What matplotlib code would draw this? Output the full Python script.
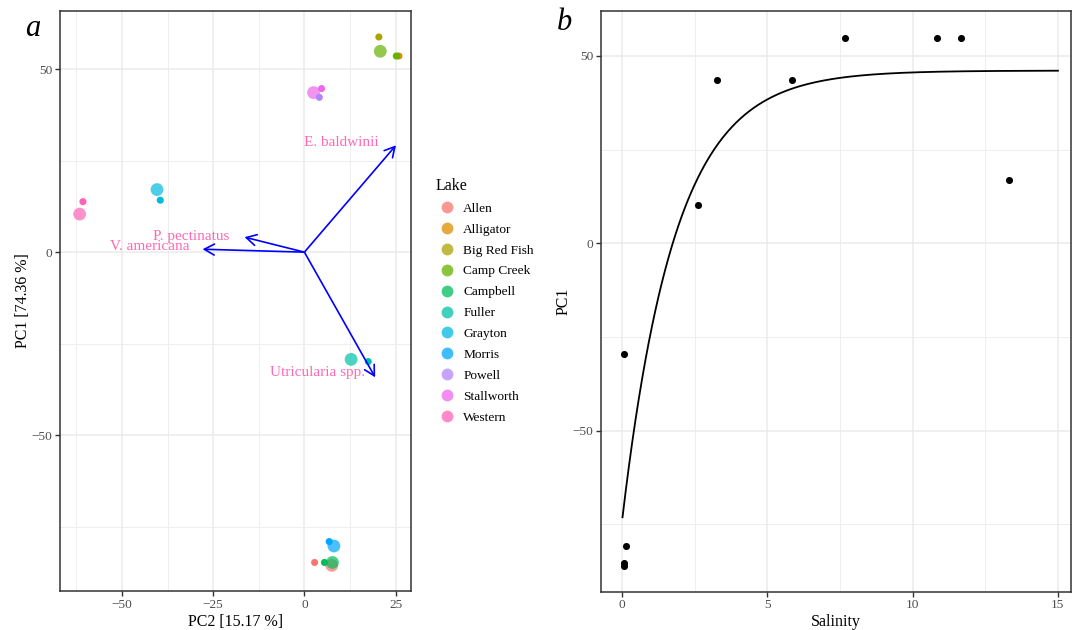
import matplotlib
matplotlib.use("Agg")
import matplotlib.pyplot as plt
import numpy as np
from matplotlib.lines import Line2D
from matplotlib.ticker import MultipleLocator

plt.rcParams['font.family'] = ['Liberation Serif', 'DejaVu Serif']

# ---------------- data ----------------
lakes = ['Allen', 'Alligator', 'Big Red Fish', 'Camp Creek', 'Campbell', 'Fuller',
         'Grayton', 'Morris', 'Powell', 'Stallworth', 'Western']
lake_colors = ['#F8766D', '#DB8E00', '#AEA200', '#64B200', '#00BD5C', '#00C1A7',
               '#00BADE', '#00A6FF', '#B385FF', '#EF67EB', '#FF63B6']

# large points (panel a)
big_lake = ['Allen', 'Camp Creek', 'Campbell', 'Fuller', 'Grayton', 'Morris', 'Stallworth', 'Western']
big_pc2 = [7.5, 20.8, 7.7, 12.8, -40.4, 8.1, 2.5, -61.6]
big_pc1 = [-85.6, 54.9, -84.8, -29.3, 17.1, -80.3, 43.6, 10.4]

# small points (panel a)
small_lake = ['Allen', 'Alligator', 'Big Red Fish', 'Camp Creek', 'Campbell', 'Fuller',
              'Grayton', 'Morris', 'Powell', 'Stallworth', 'Western']
small_pc2 = [2.8, 25.9, 20.4, 25.2, 5.5, 17.5, -39.5, 6.8, 4.1, 4.7, -60.7]
small_pc1 = [-84.8, 53.6, 58.8, 53.6, -84.8, -29.9, 14.2, -79.1, 42.3, 44.7, 13.8]

# loadings arrows
species = ['E. baldwinii', 'P. pectinatus', 'V. americana', 'Utricularia spp.']
load_pc2 = [25.1, -16.4, -27.9, 19.4]
load_pc1 = [29.2, 4.1, 0.8, -34.2]
label_pc2 = [10.1, -31.1, -42.3, 3.6]
label_pc1 = [30.0, 4.4, 1.6, -33.0]

# panel b
salinity = [0.07, 0.14, 0.07, 0.07, 2.62, 3.27, 5.85, 7.67, 10.84, 11.67, 13.31]
pc1_b = [-29.4, -80.7, -85.3, -86.1, 10.1, 43.7, 43.7, 54.9, 54.9, 54.9, 16.8]

# fitted curve parameters: PC1 = a - b * exp(-c * Salinity)
fit_a, fit_b, fit_c = 46.1, 120.5, 0.55
fit_xmax = 15

# ---------------- figure ----------------
W, H = 1072, 630
fig = plt.figure(figsize=(W / 100, H / 100), dpi=100)
ax1 = fig.add_axes([60.3 / W, 39 / H, 351 / W, 580 / H])
ax2 = fig.add_axes([601 / W, 38.5 / H, 470 / W, 580.5 / H])

grid_col = '#EBEBEB'
dark = '#333333'


def style(ax, xmaj, xmin, ymaj, ymin):
    ax.set_facecolor('white')
    for s in ax.spines.values():
        s.set_color(dark)
        s.set_linewidth(1.1)
    ax.xaxis.set_major_locator(MultipleLocator(xmaj))
    ax.xaxis.set_minor_locator(MultipleLocator(xmin))
    ax.yaxis.set_major_locator(MultipleLocator(ymaj))
    ax.yaxis.set_minor_locator(MultipleLocator(ymin))
    ax.grid(True, which='major', color=grid_col, lw=1.1)
    ax.grid(True, which='minor', color=grid_col, lw=0.6)
    ax.set_axisbelow(True)
    ax.tick_params(which='major', direction='out', length=3.5, width=1.0, color=dark,
                   labelcolor='#4D4D4D', labelsize=9.6, pad=2.2)
    ax.tick_params(which='minor', length=0)


# ---- panel a ----
style(ax1, 25, 12.5, 50, 25)
ax1.set_xlim(-66.9, 29.3)
ax1.set_ylim(-92.6, 65.9)

cmap = dict(zip(lakes, lake_colors))
ax1.scatter(big_pc2, big_pc1, s=85, c=[cmap[l] for l in big_lake], alpha=0.7,
            linewidths=0, zorder=3)
ax1.scatter(small_pc2, small_pc1, s=26, c=[cmap[l] for l in small_lake], alpha=1.0,
            linewidths=0, zorder=4)

for sp, x, y, lx, ly in zip(species, load_pc2, load_pc1, label_pc2, label_pc1):
    ax1.annotate('', xy=(x, y), xytext=(0, 0),
                 arrowprops=dict(arrowstyle='->,head_length=0.6,head_width=0.33',
                                 color='blue', lw=1.2, mutation_scale=12,
                                 shrinkA=0, shrinkB=0), zorder=5)
    ax1.text(lx, ly, sp, color='#FF69B4', fontsize=11, ha='center', va='center', zorder=6)

ax1.set_xlabel('PC2 [15.17 %]', fontsize=11.5, labelpad=2.0)
ax1.set_ylabel('PC1 [74.36 %]', fontsize=11.5, labelpad=0.5)

handles = [Line2D([], [], marker='o', linestyle='none', markersize=8.5,
                  markerfacecolor=c, markeredgewidth=0, alpha=0.75) for c in lake_colors]
leg = fig.legend(handles, lakes, loc='upper left', bbox_to_anchor=(424 / W, 1 - 166 / H),
                 frameon=False, title='Lake', title_fontsize=11.5, fontsize=9.6,
                 alignment='left', handlelength=1.7, handletextpad=0.35,
                 labelspacing=0.64, borderpad=0.4)

# ---- panel b ----
style(ax2, 5, 2.5, 50, 25)
ax2.set_xlim(-0.72, 15.45)
ax2.set_ylim(-92.9, 62.0)
xs = np.linspace(0.02, fit_xmax, 400)
ax2.plot(xs, fit_a - fit_b * np.exp(-fit_c * xs), color='black', lw=1.3, zorder=3)
ax2.scatter(salinity, pc1_b, s=26, color='black', linewidths=0, zorder=4)
ax2.set_xlabel('Salinity', fontsize=11.5, labelpad=2.0)
ax2.set_ylabel('PC1', fontsize=11.5, labelpad=0.5)

fig.text(33 / W, 1 - 29 / H, 'a', fontsize=22, style='italic', ha='center', va='center')
fig.text(564 / W, 1 - 23 / H, 'b', fontsize=22, style='italic', ha='center', va='center')

fig.savefig('out.png', dpi=100)
